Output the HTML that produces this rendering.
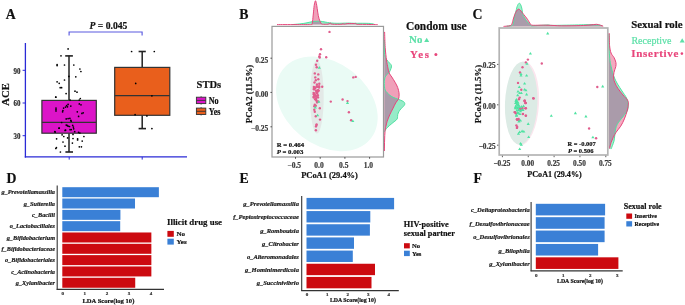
<!DOCTYPE html>
<html><head><meta charset="utf-8"><title>Figure</title>
<style>
html,body{margin:0;padding:0;background:#fff;width:685px;height:305px;overflow:hidden;}
svg{display:block;font-family:"Liberation Serif",serif;will-change:transform;}
</style></head><body>
<svg width="685" height="305" viewBox="0 0 685 305" font-family="Liberation Serif"><text transform="translate(5.80,18.50) scale(0.92,1)" font-size="15" font-weight="bold" fill="#111" stroke="#111" stroke-width="0.2">A</text>
<text transform="translate(239.20,18.50) scale(0.92,1)" font-size="15" font-weight="bold" fill="#111" stroke="#111" stroke-width="0.2">B</text>
<text transform="translate(472.60,18.50) scale(0.92,1)" font-size="15" font-weight="bold" fill="#111" stroke="#111" stroke-width="0.2">C</text>
<text transform="translate(6.40,182.80) scale(0.92,1)" font-size="15" font-weight="bold" fill="#111" stroke="#111" stroke-width="0.2">D</text>
<text transform="translate(239.60,182.80) scale(0.92,1)" font-size="15" font-weight="bold" fill="#111" stroke="#111" stroke-width="0.2">E</text>
<text transform="translate(473.60,182.80) scale(0.92,1)" font-size="15" font-weight="bold" fill="#111" stroke="#111" stroke-width="0.2">F</text>
<line x1="25.4" y1="43" x2="25.4" y2="157.6" stroke="#2a2ad6" stroke-width="1.3"/>
<line x1="24.8" y1="156.9" x2="187" y2="156.9" stroke="#2a2ad6" stroke-width="1.3"/>
<line x1="22.6" y1="135.70" x2="25.4" y2="135.70" stroke="#2a2ad6" stroke-width="1"/>
<text transform="translate(20.4,138.90) scale(0.88,1)" font-size="7.9" font-weight="bold" text-anchor="end" fill="#222" stroke="#222" stroke-width="0.15">30</text>
<line x1="22.6" y1="103.00" x2="25.4" y2="103.00" stroke="#2a2ad6" stroke-width="1"/>
<text transform="translate(20.4,106.20) scale(0.88,1)" font-size="7.9" font-weight="bold" text-anchor="end" fill="#222" stroke="#222" stroke-width="0.15">60</text>
<line x1="22.6" y1="70.30" x2="25.4" y2="70.30" stroke="#2a2ad6" stroke-width="1"/>
<text transform="translate(20.4,73.50) scale(0.88,1)" font-size="7.9" font-weight="bold" text-anchor="end" fill="#222" stroke="#222" stroke-width="0.15">90</text>
<line x1="69.20" y1="156.9" x2="69.20" y2="159.6" stroke="#2a2ad6" stroke-width="1"/>
<line x1="142.20" y1="156.9" x2="142.20" y2="159.6" stroke="#2a2ad6" stroke-width="1"/>
<text transform="translate(9.1,94.4) rotate(-90)" font-size="10.7" font-weight="bold" text-anchor="middle" fill="#111" stroke="#111" stroke-width="0.2">ACE</text>
<path d="M69.1,35.6 V32 H142.1 V35.6" fill="none" stroke="#5a5ae0" stroke-width="1.15"/>
<text x="89.6" y="29.1" font-size="9.6" font-weight="bold" fill="#111" stroke="#111" stroke-width="0.2"><tspan font-style="italic">P</tspan> = 0.045</text>
<line x1="69.00" y1="55.80" x2="69.00" y2="100.40" stroke="#222" stroke-width="1.5"/>
<line x1="69.00" y1="133.20" x2="69.00" y2="152.00" stroke="#222" stroke-width="1.5"/>
<line x1="65.2" y1="55.9" x2="72.9" y2="55.9" stroke="#222" stroke-width="1.6"/>
<line x1="65.4" y1="152" x2="73" y2="152" stroke="#222" stroke-width="1.6"/>
<line x1="142.20" y1="51.40" x2="142.20" y2="67.40" stroke="#222" stroke-width="1.5"/>
<line x1="142.20" y1="115.20" x2="142.20" y2="128.60" stroke="#222" stroke-width="1.5"/>
<line x1="138.6" y1="51.5" x2="145.8" y2="51.5" stroke="#222" stroke-width="1.6"/>
<line x1="138.6" y1="128.6" x2="146" y2="128.6" stroke="#222" stroke-width="1.6"/>
<rect x="41.9" y="100.4" width="54.4" height="32.8" fill="#dc14c8" stroke="#333" stroke-width="1.2"/>
<line x1="41.9" y1="122.3" x2="96.3" y2="122.3" stroke="#333" stroke-width="1.3"/>
<rect x="114.7" y="67.4" width="55.1" height="47.9" fill="#e95f1c" stroke="#333" stroke-width="1.2"/>
<line x1="114.7" y1="95.7" x2="169.8" y2="95.7" stroke="#333" stroke-width="1.3"/>
<circle cx="68.10" cy="48.90" r="0.85" fill="#000"/>
<circle cx="61.00" cy="55.80" r="0.85" fill="#000"/>
<circle cx="57.10" cy="64.60" r="0.85" fill="#000"/>
<circle cx="57.10" cy="65.60" r="0.85" fill="#000"/>
<circle cx="64.50" cy="65.00" r="0.85" fill="#000"/>
<circle cx="73.80" cy="65.00" r="0.85" fill="#000"/>
<circle cx="79.90" cy="69.00" r="0.85" fill="#000"/>
<circle cx="80.90" cy="71.50" r="0.85" fill="#000"/>
<circle cx="68.90" cy="76.40" r="0.85" fill="#000"/>
<circle cx="75.80" cy="76.80" r="0.85" fill="#000"/>
<circle cx="64.50" cy="80.00" r="0.85" fill="#000"/>
<circle cx="57.10" cy="81.80" r="0.85" fill="#000"/>
<circle cx="59.20" cy="83.30" r="0.85" fill="#000"/>
<circle cx="60.20" cy="87.70" r="0.85" fill="#000"/>
<circle cx="61.60" cy="87.70" r="0.85" fill="#000"/>
<circle cx="66.10" cy="93.60" r="0.85" fill="#000"/>
<circle cx="75.00" cy="91.20" r="0.85" fill="#000"/>
<circle cx="77.00" cy="92.20" r="0.85" fill="#000"/>
<circle cx="55.90" cy="97.10" r="0.85" fill="#000"/>
<circle cx="80.30" cy="98.50" r="0.85" fill="#000"/>
<circle cx="55.70" cy="97.20" r="0.85" fill="#000"/>
<circle cx="70.10" cy="100.00" r="0.85" fill="#000"/>
<circle cx="79.30" cy="100.00" r="0.85" fill="#000"/>
<circle cx="68.10" cy="104.40" r="0.85" fill="#000"/>
<circle cx="66.60" cy="105.70" r="0.85" fill="#000"/>
<circle cx="65.50" cy="107.10" r="0.85" fill="#000"/>
<circle cx="67.50" cy="106.80" r="0.85" fill="#000"/>
<circle cx="70.80" cy="106.10" r="0.85" fill="#000"/>
<circle cx="79.30" cy="103.90" r="0.85" fill="#000"/>
<circle cx="81.00" cy="104.80" r="0.85" fill="#000"/>
<circle cx="56.00" cy="108.10" r="0.85" fill="#000"/>
<circle cx="56.00" cy="109.70" r="0.85" fill="#000"/>
<circle cx="56.00" cy="111.00" r="0.85" fill="#000"/>
<circle cx="63.60" cy="108.10" r="0.85" fill="#000"/>
<circle cx="62.90" cy="110.50" r="0.85" fill="#000"/>
<circle cx="62.60" cy="111.80" r="0.85" fill="#000"/>
<circle cx="77.30" cy="111.80" r="0.85" fill="#000"/>
<circle cx="81.90" cy="113.40" r="0.85" fill="#000"/>
<circle cx="83.20" cy="112.80" r="0.85" fill="#000"/>
<circle cx="78.60" cy="116.40" r="0.85" fill="#000"/>
<circle cx="66.20" cy="118.90" r="0.85" fill="#000"/>
<circle cx="68.10" cy="118.60" r="0.85" fill="#000"/>
<circle cx="69.90" cy="118.30" r="0.85" fill="#000"/>
<circle cx="70.80" cy="120.30" r="0.85" fill="#000"/>
<circle cx="71.20" cy="121.20" r="0.85" fill="#000"/>
<circle cx="61.60" cy="122.50" r="0.85" fill="#000"/>
<circle cx="66.20" cy="125.10" r="0.85" fill="#000"/>
<circle cx="67.10" cy="125.40" r="0.85" fill="#000"/>
<circle cx="68.10" cy="126.20" r="0.85" fill="#000"/>
<circle cx="69.50" cy="126.50" r="0.85" fill="#000"/>
<circle cx="72.70" cy="125.40" r="0.85" fill="#000"/>
<circle cx="73.40" cy="127.10" r="0.85" fill="#000"/>
<circle cx="73.70" cy="128.80" r="0.85" fill="#000"/>
<circle cx="59.00" cy="128.20" r="0.85" fill="#000"/>
<circle cx="70.10" cy="129.70" r="0.85" fill="#000"/>
<circle cx="65.10" cy="130.40" r="0.85" fill="#000"/>
<circle cx="54.80" cy="131.70" r="0.85" fill="#000"/>
<circle cx="74.70" cy="131.70" r="0.85" fill="#000"/>
<circle cx="78.60" cy="132.40" r="0.85" fill="#000"/>
<circle cx="79.90" cy="133.00" r="0.85" fill="#000"/>
<circle cx="59.20" cy="128.20" r="0.85" fill="#000"/>
<circle cx="65.60" cy="130.20" r="0.85" fill="#000"/>
<circle cx="71.30" cy="129.60" r="0.85" fill="#000"/>
<circle cx="55.20" cy="132.10" r="0.85" fill="#000"/>
<circle cx="62.10" cy="134.80" r="0.85" fill="#000"/>
<circle cx="63.80" cy="136.50" r="0.85" fill="#000"/>
<circle cx="67.60" cy="137.90" r="0.85" fill="#000"/>
<circle cx="73.00" cy="134.40" r="0.85" fill="#000"/>
<circle cx="73.00" cy="138.50" r="0.85" fill="#000"/>
<circle cx="77.60" cy="138.80" r="0.85" fill="#000"/>
<circle cx="77.60" cy="139.90" r="0.85" fill="#000"/>
<circle cx="83.90" cy="136.50" r="0.85" fill="#000"/>
<circle cx="82.20" cy="141.10" r="0.85" fill="#000"/>
<circle cx="56.60" cy="138.80" r="0.85" fill="#000"/>
<circle cx="63.00" cy="142.00" r="0.85" fill="#000"/>
<circle cx="72.40" cy="143.10" r="0.85" fill="#000"/>
<circle cx="65.00" cy="146.20" r="0.85" fill="#000"/>
<circle cx="56.40" cy="147.70" r="0.85" fill="#000"/>
<circle cx="55.80" cy="148.50" r="0.85" fill="#000"/>
<circle cx="79.30" cy="146.80" r="0.85" fill="#000"/>
<circle cx="81.40" cy="146.80" r="0.85" fill="#000"/>
<circle cx="60.40" cy="152.00" r="0.85" fill="#000"/>
<circle cx="131.60" cy="51.50" r="0.85" fill="#000"/>
<circle cx="154.30" cy="51.50" r="0.85" fill="#000"/>
<circle cx="135.70" cy="83.40" r="0.85" fill="#000"/>
<circle cx="151.90" cy="95.80" r="0.85" fill="#000"/>
<circle cx="135.10" cy="114.70" r="0.85" fill="#000"/>
<circle cx="146.90" cy="115.90" r="0.85" fill="#000"/>
<circle cx="151.90" cy="128.60" r="0.85" fill="#000"/>
<text x="196.60" y="87.70" font-size="10.50" font-weight="bold" font-style="normal" text-anchor="start" fill="#111" stroke="#111" stroke-width="0.2" >STDs</text>
<rect x="196.40" y="97.20" width="9.40" height="6.40" fill="#dc14c8" stroke="#333" stroke-width="0.9"/>
<line x1="196.40" y1="100.40" x2="205.80" y2="100.40" stroke="#333" stroke-width="0.9"/>
<line x1="201.10" y1="96.20" x2="201.10" y2="97.20" stroke="#333" stroke-width="0.8"/>
<line x1="201.10" y1="103.60" x2="201.10" y2="104.60" stroke="#333" stroke-width="0.8"/>
<rect x="196.40" y="108.10" width="9.40" height="6.40" fill="#e95f1c" stroke="#333" stroke-width="0.9"/>
<line x1="196.40" y1="111.30" x2="205.80" y2="111.30" stroke="#333" stroke-width="0.9"/>
<line x1="201.10" y1="107.10" x2="201.10" y2="108.10" stroke="#333" stroke-width="0.8"/>
<line x1="201.10" y1="114.50" x2="201.10" y2="115.50" stroke="#333" stroke-width="0.8"/>
<text transform="translate(208.7,103.5) scale(0.88,1)" font-size="9.3" font-weight="bold" fill="#111" stroke="#111" stroke-width="0.2">No</text>
<text transform="translate(208.7,114.9) scale(0.88,1)" font-size="9.3" font-weight="bold" fill="#111" stroke="#111" stroke-width="0.2">Yes</text>
<ellipse cx="326.9" cy="103.9" rx="55.9" ry="41.2" transform="rotate(38.2 326.9 103.9)" fill="#eafbf5"/>
<ellipse cx="316.9" cy="97" rx="6.8" ry="36.5" fill="#e3e9e7"/>
<circle cx="329.50" cy="31.90" r="1.20" fill="#e05d8d"/>
<circle cx="321.00" cy="49.30" r="1.20" fill="#e05d8d"/>
<circle cx="320.00" cy="54.20" r="1.20" fill="#e05d8d"/>
<circle cx="319.30" cy="56.50" r="1.20" fill="#e05d8d"/>
<circle cx="319.70" cy="57.50" r="1.20" fill="#e05d8d"/>
<circle cx="326.20" cy="57.30" r="1.20" fill="#e05d8d"/>
<circle cx="317.20" cy="60.70" r="1.20" fill="#e05d8d"/>
<circle cx="316.00" cy="64.80" r="1.20" fill="#e05d8d"/>
<circle cx="316.70" cy="67.30" r="1.20" fill="#e05d8d"/>
<circle cx="314.80" cy="73.40" r="1.20" fill="#e05d8d"/>
<circle cx="318.30" cy="74.40" r="1.20" fill="#e05d8d"/>
<circle cx="315.30" cy="77.40" r="1.20" fill="#e05d8d"/>
<circle cx="318.30" cy="79.30" r="1.20" fill="#e05d8d"/>
<circle cx="315.80" cy="80.30" r="1.20" fill="#e05d8d"/>
<circle cx="319.30" cy="83.70" r="1.20" fill="#e05d8d"/>
<circle cx="322.20" cy="86.70" r="1.20" fill="#e05d8d"/>
<circle cx="314.50" cy="82.50" r="1.20" fill="#e05d8d"/>
<circle cx="317.00" cy="84.50" r="1.20" fill="#e05d8d"/>
<circle cx="314.80" cy="104.80" r="1.20" fill="#e05d8d"/>
<circle cx="315.80" cy="105.80" r="1.20" fill="#e05d8d"/>
<circle cx="314.30" cy="106.30" r="1.20" fill="#e05d8d"/>
<circle cx="319.80" cy="108.30" r="1.20" fill="#e05d8d"/>
<circle cx="314.30" cy="109.80" r="1.20" fill="#e05d8d"/>
<circle cx="314.80" cy="111.70" r="1.20" fill="#e05d8d"/>
<circle cx="315.80" cy="116.20" r="1.20" fill="#e05d8d"/>
<circle cx="320.00" cy="119.60" r="1.20" fill="#e05d8d"/>
<circle cx="316.60" cy="124.50" r="1.20" fill="#e05d8d"/>
<circle cx="316.40" cy="125.10" r="1.20" fill="#e05d8d"/>
<circle cx="316.00" cy="126.40" r="1.20" fill="#e05d8d"/>
<circle cx="315.90" cy="130.30" r="1.20" fill="#e05d8d"/>
<circle cx="330.80" cy="101.60" r="1.20" fill="#e05d8d"/>
<circle cx="342.60" cy="99.50" r="1.20" fill="#e05d8d"/>
<circle cx="347.50" cy="101.10" r="1.20" fill="#e05d8d"/>
<circle cx="348.90" cy="112.30" r="1.20" fill="#e05d8d"/>
<circle cx="353.30" cy="77.40" r="1.20" fill="#e05d8d"/>
<circle cx="355.70" cy="76.90" r="1.20" fill="#e05d8d"/>
<circle cx="351.10" cy="120.20" r="1.20" fill="#e05d8d"/>
<circle cx="315.28" cy="88.06" r="1.20" fill="#e05d8d"/>
<circle cx="317.18" cy="86.73" r="1.20" fill="#e05d8d"/>
<circle cx="316.51" cy="91.72" r="1.20" fill="#e05d8d"/>
<circle cx="313.74" cy="94.13" r="1.20" fill="#e05d8d"/>
<circle cx="313.62" cy="92.87" r="1.20" fill="#e05d8d"/>
<circle cx="313.81" cy="87.04" r="1.20" fill="#e05d8d"/>
<circle cx="315.86" cy="99.56" r="1.20" fill="#e05d8d"/>
<circle cx="314.12" cy="89.30" r="1.20" fill="#e05d8d"/>
<circle cx="317.04" cy="101.61" r="1.20" fill="#e05d8d"/>
<circle cx="316.75" cy="92.24" r="1.20" fill="#e05d8d"/>
<circle cx="319.06" cy="86.29" r="1.20" fill="#e05d8d"/>
<circle cx="318.38" cy="90.42" r="1.20" fill="#e05d8d"/>
<circle cx="314.24" cy="87.50" r="1.20" fill="#e05d8d"/>
<circle cx="315.19" cy="99.37" r="1.20" fill="#e05d8d"/>
<circle cx="314.45" cy="95.39" r="1.20" fill="#e05d8d"/>
<circle cx="317.11" cy="91.83" r="1.20" fill="#e05d8d"/>
<circle cx="316.58" cy="86.57" r="1.20" fill="#e05d8d"/>
<circle cx="313.75" cy="89.00" r="1.20" fill="#e05d8d"/>
<circle cx="317.35" cy="92.77" r="1.20" fill="#e05d8d"/>
<circle cx="315.22" cy="95.45" r="1.20" fill="#e05d8d"/>
<circle cx="316.03" cy="90.60" r="1.20" fill="#e05d8d"/>
<circle cx="318.01" cy="97.38" r="1.20" fill="#e05d8d"/>
<circle cx="314.82" cy="95.27" r="1.20" fill="#e05d8d"/>
<circle cx="316.45" cy="100.38" r="1.20" fill="#e05d8d"/>
<circle cx="317.63" cy="90.39" r="1.20" fill="#e05d8d"/>
<circle cx="319.09" cy="87.51" r="1.20" fill="#e05d8d"/>
<circle cx="315.83" cy="98.37" r="1.20" fill="#e05d8d"/>
<circle cx="314.28" cy="93.81" r="1.20" fill="#e05d8d"/>
<circle cx="313.63" cy="96.86" r="1.20" fill="#e05d8d"/>
<circle cx="317.83" cy="95.24" r="1.20" fill="#e05d8d"/>
<circle cx="318.48" cy="90.83" r="1.20" fill="#e05d8d"/>
<circle cx="317.43" cy="95.60" r="1.20" fill="#e05d8d"/>
<circle cx="316.76" cy="93.26" r="1.20" fill="#e05d8d"/>
<circle cx="318.27" cy="101.56" r="1.20" fill="#e05d8d"/>
<circle cx="316.15" cy="96.79" r="1.20" fill="#e05d8d"/>
<circle cx="313.75" cy="97.43" r="1.20" fill="#e05d8d"/>
<circle cx="317.15" cy="102.38" r="1.20" fill="#e05d8d"/>
<circle cx="318.17" cy="90.34" r="1.20" fill="#e05d8d"/>
<path d="M319.30,66.10 L320.88,68.72 L317.73,68.72 Z" fill="#4fe3a2"/>
<path d="M318.80,100.20 L320.38,102.83 L317.23,102.83 Z" fill="#4fe3a2"/>
<path d="M315.30,105.80 L316.88,108.42 L313.73,108.42 Z" fill="#4fe3a2"/>
<path d="M317.60,113.70 L319.18,116.33 L316.03,116.33 Z" fill="#4fe3a2"/>
<path d="M347.50,101.30 L349.07,103.92 L345.93,103.92 Z" fill="#4fe3a2"/>
<path d="M352.80,119.50 L354.38,122.12 L351.23,122.12 Z" fill="#4fe3a2"/>
<rect x="272" y="26.4" width="111.5" height="130.6" fill="none" stroke="#9a9a9a" stroke-width="1.2"/>
<line x1="270.4" y1="58.20" x2="272" y2="58.20" stroke="#333" stroke-width="0.8"/>
<text x="268.30" y="62.70" font-size="7.50" font-weight="bold" font-style="normal" text-anchor="end" fill="#3a3a3a" stroke="#3a3a3a" stroke-width="0.2" >0.25</text>
<line x1="270.4" y1="92.40" x2="272" y2="92.40" stroke="#333" stroke-width="0.8"/>
<text x="268.30" y="96.90" font-size="7.50" font-weight="bold" font-style="normal" text-anchor="end" fill="#3a3a3a" stroke="#3a3a3a" stroke-width="0.2" >0.00</text>
<line x1="270.4" y1="126.80" x2="272" y2="126.80" stroke="#333" stroke-width="0.8"/>
<text x="268.30" y="131.30" font-size="7.50" font-weight="bold" font-style="normal" text-anchor="end" fill="#3a3a3a" stroke="#3a3a3a" stroke-width="0.2" >−0.25</text>
<line x1="295.50" y1="157" x2="295.50" y2="158.8" stroke="#333" stroke-width="0.8"/>
<text x="294.30" y="167.50" font-size="7.50" font-weight="bold" font-style="normal" text-anchor="middle" fill="#3a3a3a" stroke="#3a3a3a" stroke-width="0.2" >−0.5</text>
<line x1="320.20" y1="157" x2="320.20" y2="158.8" stroke="#333" stroke-width="0.8"/>
<text x="319.00" y="167.50" font-size="7.50" font-weight="bold" font-style="normal" text-anchor="middle" fill="#3a3a3a" stroke="#3a3a3a" stroke-width="0.2" >0.0</text>
<line x1="344.90" y1="157" x2="344.90" y2="158.8" stroke="#333" stroke-width="0.8"/>
<text x="343.70" y="167.50" font-size="7.50" font-weight="bold" font-style="normal" text-anchor="middle" fill="#3a3a3a" stroke="#3a3a3a" stroke-width="0.2" >0.5</text>
<line x1="369.60" y1="157" x2="369.60" y2="158.8" stroke="#333" stroke-width="0.8"/>
<text x="368.40" y="167.50" font-size="7.50" font-weight="bold" font-style="normal" text-anchor="middle" fill="#3a3a3a" stroke="#3a3a3a" stroke-width="0.2" >1.0</text>
<text x="329.50" y="177.70" font-size="8.45" font-weight="bold" font-style="normal" text-anchor="middle" fill="#111" stroke="#111" stroke-width="0.2" >PCoA1 (29.4%)</text>
<text transform="translate(251.6,94.05) rotate(-90)" font-size="8.74" font-weight="bold" text-anchor="middle" fill="#111" stroke="#111" stroke-width="0.2">PCoA2 (11.5%)</text>
<text x="276.70" y="147.20" font-size="6.80" font-weight="bold" font-style="normal" text-anchor="start" fill="#111" stroke="#111" stroke-width="0.2" >R = 0.464</text>
<text x="276.7" y="154.2" font-size="6.8" font-weight="bold" fill="#111" stroke="#111" stroke-width="0.2"><tspan font-style="italic">P</tspan> = 0.003</text>
<clipPath id="clp1"><path d="M291.90,24.60 C293.25,24.48 297.65,24.17 300.00,23.90 C302.35,23.63 304.00,23.37 306.00,23.00 C308.00,22.63 310.33,21.98 312.00,21.70 C313.67,21.42 314.53,21.37 316.00,21.30 C317.47,21.23 318.53,21.05 320.80,21.30 C323.07,21.55 326.92,22.47 329.60,22.80 C332.28,23.13 333.87,23.25 336.90,23.30 C339.93,23.35 344.77,23.10 347.80,23.10 C350.83,23.10 352.23,23.27 355.10,23.30 C357.97,23.33 362.25,23.25 365.00,23.30 C367.75,23.35 369.93,23.38 371.60,23.60 C373.27,23.82 374.43,24.43 375.00,24.60 L375.00,24.60 L291.90,24.60 Z"/></clipPath>
<path d="M291.90,24.60 C293.25,24.48 297.65,24.17 300.00,23.90 C302.35,23.63 304.00,23.37 306.00,23.00 C308.00,22.63 310.33,21.98 312.00,21.70 C313.67,21.42 314.53,21.37 316.00,21.30 C317.47,21.23 318.53,21.05 320.80,21.30 C323.07,21.55 326.92,22.47 329.60,22.80 C332.28,23.13 333.87,23.25 336.90,23.30 C339.93,23.35 344.77,23.10 347.80,23.10 C350.83,23.10 352.23,23.27 355.10,23.30 C357.97,23.33 362.25,23.25 365.00,23.30 C367.75,23.35 369.93,23.38 371.60,23.60 C373.27,23.82 374.43,24.43 375.00,24.60 L375.00,24.60 L291.90,24.60 Z" fill="#96ebc8"/>
<path d="M277.00,24.60 C280.00,24.60 289.42,24.60 295.00,24.60 C300.58,24.60 307.68,24.67 310.50,24.60 C313.32,24.53 311.55,24.80 311.90,24.20 C312.25,23.60 312.37,22.70 312.60,21.00 C312.83,19.30 313.03,16.58 313.30,14.00 C313.57,11.42 313.85,7.70 314.20,5.50 C314.55,3.30 315.03,1.13 315.40,0.80 C315.77,0.47 316.10,2.22 316.40,3.50 C316.70,4.78 316.88,6.48 317.20,8.50 C317.52,10.52 317.88,13.58 318.30,15.60 C318.72,17.62 319.22,19.28 319.70,20.60 C320.18,21.92 320.77,22.90 321.20,23.50 C321.63,24.10 321.15,24.10 322.30,24.20 C323.45,24.30 326.77,24.28 328.10,24.10 C329.43,23.92 329.57,23.08 330.30,23.10 C331.03,23.12 330.55,24.02 332.50,24.20 C334.45,24.38 340.30,24.30 342.00,24.20 C343.70,24.10 342.33,23.60 342.70,23.60 C343.07,23.60 343.35,24.22 344.20,24.20 C345.05,24.18 346.10,23.62 347.80,23.50 C349.50,23.38 353.12,23.57 354.40,23.50 C355.68,23.43 355.13,22.98 355.50,23.10 C355.87,23.22 355.02,23.98 356.60,24.20 C358.18,24.42 361.48,24.33 365.00,24.40 C368.52,24.47 375.58,24.57 377.70,24.60 L377.70,24.60 L277.00,24.60 Z" fill="#f0a0b9"/>
<path d="M277.00,24.60 C280.00,24.60 289.42,24.60 295.00,24.60 C300.58,24.60 307.68,24.67 310.50,24.60 C313.32,24.53 311.55,24.80 311.90,24.20 C312.25,23.60 312.37,22.70 312.60,21.00 C312.83,19.30 313.03,16.58 313.30,14.00 C313.57,11.42 313.85,7.70 314.20,5.50 C314.55,3.30 315.03,1.13 315.40,0.80 C315.77,0.47 316.10,2.22 316.40,3.50 C316.70,4.78 316.88,6.48 317.20,8.50 C317.52,10.52 317.88,13.58 318.30,15.60 C318.72,17.62 319.22,19.28 319.70,20.60 C320.18,21.92 320.77,22.90 321.20,23.50 C321.63,24.10 321.15,24.10 322.30,24.20 C323.45,24.30 326.77,24.28 328.10,24.10 C329.43,23.92 329.57,23.08 330.30,23.10 C331.03,23.12 330.55,24.02 332.50,24.20 C334.45,24.38 340.30,24.30 342.00,24.20 C343.70,24.10 342.33,23.60 342.70,23.60 C343.07,23.60 343.35,24.22 344.20,24.20 C345.05,24.18 346.10,23.62 347.80,23.50 C349.50,23.38 353.12,23.57 354.40,23.50 C355.68,23.43 355.13,22.98 355.50,23.10 C355.87,23.22 355.02,23.98 356.60,24.20 C358.18,24.42 361.48,24.33 365.00,24.40 C368.52,24.47 375.58,24.57 377.70,24.60 L377.70,24.60 L277.00,24.60 Z" fill="#aa9baa" clip-path="url(#clp1)"/>
<path d="M291.90,24.60 C293.25,24.48 297.65,24.17 300.00,23.90 C302.35,23.63 304.00,23.37 306.00,23.00 C308.00,22.63 310.33,21.98 312.00,21.70 C313.67,21.42 314.53,21.37 316.00,21.30 C317.47,21.23 318.53,21.05 320.80,21.30 C323.07,21.55 326.92,22.47 329.60,22.80 C332.28,23.13 333.87,23.25 336.90,23.30 C339.93,23.35 344.77,23.10 347.80,23.10 C350.83,23.10 352.23,23.27 355.10,23.30 C357.97,23.33 362.25,23.25 365.00,23.30 C367.75,23.35 369.93,23.38 371.60,23.60 C373.27,23.82 374.43,24.43 375.00,24.60" fill="none" stroke="#4fe0a0" stroke-width="1"/>
<path d="M277.00,24.60 C280.00,24.60 289.42,24.60 295.00,24.60 C300.58,24.60 307.68,24.67 310.50,24.60 C313.32,24.53 311.55,24.80 311.90,24.20 C312.25,23.60 312.37,22.70 312.60,21.00 C312.83,19.30 313.03,16.58 313.30,14.00 C313.57,11.42 313.85,7.70 314.20,5.50 C314.55,3.30 315.03,1.13 315.40,0.80 C315.77,0.47 316.10,2.22 316.40,3.50 C316.70,4.78 316.88,6.48 317.20,8.50 C317.52,10.52 317.88,13.58 318.30,15.60 C318.72,17.62 319.22,19.28 319.70,20.60 C320.18,21.92 320.77,22.90 321.20,23.50 C321.63,24.10 321.15,24.10 322.30,24.20 C323.45,24.30 326.77,24.28 328.10,24.10 C329.43,23.92 329.57,23.08 330.30,23.10 C331.03,23.12 330.55,24.02 332.50,24.20 C334.45,24.38 340.30,24.30 342.00,24.20 C343.70,24.10 342.33,23.60 342.70,23.60 C343.07,23.60 343.35,24.22 344.20,24.20 C345.05,24.18 346.10,23.62 347.80,23.50 C349.50,23.38 353.12,23.57 354.40,23.50 C355.68,23.43 355.13,22.98 355.50,23.10 C355.87,23.22 355.02,23.98 356.60,24.20 C358.18,24.42 361.48,24.33 365.00,24.40 C368.52,24.47 375.58,24.57 377.70,24.60" fill="none" stroke="#e6457a" stroke-width="1"/>
<clipPath id="clp2"><path d="M384.50,40.00 C384.52,42.37 384.27,50.97 384.60,54.20 C384.93,57.43 385.63,57.88 386.50,59.40 C387.37,60.92 388.97,62.28 389.80,63.30 C390.63,64.32 391.30,64.63 391.50,65.50 C391.70,66.37 391.38,67.35 391.00,68.50 C390.62,69.65 390.05,71.20 389.20,72.40 C388.35,73.60 386.67,74.60 385.90,75.70 C385.13,76.80 384.87,77.68 384.60,79.00 C384.33,80.32 384.20,81.75 384.30,83.60 C384.40,85.45 384.38,88.25 385.20,90.10 C386.02,91.95 387.88,93.50 389.20,94.70 C390.52,95.90 391.58,96.53 393.10,97.30 C394.62,98.07 396.82,98.72 398.30,99.30 C399.78,99.88 401.02,100.32 402.00,100.80 C402.98,101.28 403.77,101.53 404.20,102.20 C404.63,102.87 405.13,103.70 404.60,104.80 C404.07,105.90 401.93,107.70 401.00,108.80 C400.07,109.90 399.55,110.42 399.00,111.40 C398.45,112.38 397.95,113.62 397.70,114.70 C397.45,115.78 397.72,117.03 397.50,117.90 C397.28,118.77 397.13,119.13 396.40,119.90 C395.67,120.67 394.30,121.52 393.10,122.50 C391.90,123.48 390.28,124.82 389.20,125.80 C388.12,126.78 387.27,127.63 386.60,128.40 C385.93,129.17 385.55,129.80 385.20,130.40 C384.85,131.00 384.62,131.73 384.50,132.00 L384.30,132.00 L384.30,40.00 Z"/></clipPath>
<path d="M384.50,40.00 C384.52,42.37 384.27,50.97 384.60,54.20 C384.93,57.43 385.63,57.88 386.50,59.40 C387.37,60.92 388.97,62.28 389.80,63.30 C390.63,64.32 391.30,64.63 391.50,65.50 C391.70,66.37 391.38,67.35 391.00,68.50 C390.62,69.65 390.05,71.20 389.20,72.40 C388.35,73.60 386.67,74.60 385.90,75.70 C385.13,76.80 384.87,77.68 384.60,79.00 C384.33,80.32 384.20,81.75 384.30,83.60 C384.40,85.45 384.38,88.25 385.20,90.10 C386.02,91.95 387.88,93.50 389.20,94.70 C390.52,95.90 391.58,96.53 393.10,97.30 C394.62,98.07 396.82,98.72 398.30,99.30 C399.78,99.88 401.02,100.32 402.00,100.80 C402.98,101.28 403.77,101.53 404.20,102.20 C404.63,102.87 405.13,103.70 404.60,104.80 C404.07,105.90 401.93,107.70 401.00,108.80 C400.07,109.90 399.55,110.42 399.00,111.40 C398.45,112.38 397.95,113.62 397.70,114.70 C397.45,115.78 397.72,117.03 397.50,117.90 C397.28,118.77 397.13,119.13 396.40,119.90 C395.67,120.67 394.30,121.52 393.10,122.50 C391.90,123.48 390.28,124.82 389.20,125.80 C388.12,126.78 387.27,127.63 386.60,128.40 C385.93,129.17 385.55,129.80 385.20,130.40 C384.85,131.00 384.62,131.73 384.50,132.00 L384.30,132.00 L384.30,40.00 Z" fill="#96ebc8"/>
<path d="M384.60,31.90 C384.70,34.52 384.88,42.92 385.20,47.60 C385.52,52.28 386.05,56.62 386.50,60.00 C386.95,63.38 387.45,65.72 387.90,67.90 C388.35,70.08 388.55,71.58 389.20,73.10 C389.85,74.62 390.82,75.47 391.80,77.00 C392.78,78.53 394.12,80.55 395.10,82.30 C396.08,84.05 397.05,85.75 397.70,87.50 C398.35,89.25 398.78,91.27 399.00,92.80 C399.22,94.33 399.12,95.62 399.00,96.70 C398.88,97.78 398.85,98.27 398.30,99.30 C397.75,100.33 396.57,101.43 395.70,102.90 C394.83,104.37 394.08,106.13 393.10,108.10 C392.12,110.07 390.78,112.52 389.80,114.70 C388.82,116.88 387.85,119.25 387.20,121.20 C386.55,123.15 386.27,124.65 385.90,126.40 C385.53,128.15 385.22,129.43 385.00,131.70 C384.78,133.97 384.70,136.78 384.60,140.00 C384.50,143.22 384.43,149.17 384.40,151.00 L384.30,151.00 L384.30,31.90 Z" fill="#f0a0b9"/>
<path d="M384.60,31.90 C384.70,34.52 384.88,42.92 385.20,47.60 C385.52,52.28 386.05,56.62 386.50,60.00 C386.95,63.38 387.45,65.72 387.90,67.90 C388.35,70.08 388.55,71.58 389.20,73.10 C389.85,74.62 390.82,75.47 391.80,77.00 C392.78,78.53 394.12,80.55 395.10,82.30 C396.08,84.05 397.05,85.75 397.70,87.50 C398.35,89.25 398.78,91.27 399.00,92.80 C399.22,94.33 399.12,95.62 399.00,96.70 C398.88,97.78 398.85,98.27 398.30,99.30 C397.75,100.33 396.57,101.43 395.70,102.90 C394.83,104.37 394.08,106.13 393.10,108.10 C392.12,110.07 390.78,112.52 389.80,114.70 C388.82,116.88 387.85,119.25 387.20,121.20 C386.55,123.15 386.27,124.65 385.90,126.40 C385.53,128.15 385.22,129.43 385.00,131.70 C384.78,133.97 384.70,136.78 384.60,140.00 C384.50,143.22 384.43,149.17 384.40,151.00 L384.30,151.00 L384.30,31.90 Z" fill="#aa9baa" clip-path="url(#clp2)"/>
<path d="M384.50,40.00 C384.52,42.37 384.27,50.97 384.60,54.20 C384.93,57.43 385.63,57.88 386.50,59.40 C387.37,60.92 388.97,62.28 389.80,63.30 C390.63,64.32 391.30,64.63 391.50,65.50 C391.70,66.37 391.38,67.35 391.00,68.50 C390.62,69.65 390.05,71.20 389.20,72.40 C388.35,73.60 386.67,74.60 385.90,75.70 C385.13,76.80 384.87,77.68 384.60,79.00 C384.33,80.32 384.20,81.75 384.30,83.60 C384.40,85.45 384.38,88.25 385.20,90.10 C386.02,91.95 387.88,93.50 389.20,94.70 C390.52,95.90 391.58,96.53 393.10,97.30 C394.62,98.07 396.82,98.72 398.30,99.30 C399.78,99.88 401.02,100.32 402.00,100.80 C402.98,101.28 403.77,101.53 404.20,102.20 C404.63,102.87 405.13,103.70 404.60,104.80 C404.07,105.90 401.93,107.70 401.00,108.80 C400.07,109.90 399.55,110.42 399.00,111.40 C398.45,112.38 397.95,113.62 397.70,114.70 C397.45,115.78 397.72,117.03 397.50,117.90 C397.28,118.77 397.13,119.13 396.40,119.90 C395.67,120.67 394.30,121.52 393.10,122.50 C391.90,123.48 390.28,124.82 389.20,125.80 C388.12,126.78 387.27,127.63 386.60,128.40 C385.93,129.17 385.55,129.80 385.20,130.40 C384.85,131.00 384.62,131.73 384.50,132.00" fill="none" stroke="#4fe0a0" stroke-width="1"/>
<path d="M384.60,31.90 C384.70,34.52 384.88,42.92 385.20,47.60 C385.52,52.28 386.05,56.62 386.50,60.00 C386.95,63.38 387.45,65.72 387.90,67.90 C388.35,70.08 388.55,71.58 389.20,73.10 C389.85,74.62 390.82,75.47 391.80,77.00 C392.78,78.53 394.12,80.55 395.10,82.30 C396.08,84.05 397.05,85.75 397.70,87.50 C398.35,89.25 398.78,91.27 399.00,92.80 C399.22,94.33 399.12,95.62 399.00,96.70 C398.88,97.78 398.85,98.27 398.30,99.30 C397.75,100.33 396.57,101.43 395.70,102.90 C394.83,104.37 394.08,106.13 393.10,108.10 C392.12,110.07 390.78,112.52 389.80,114.70 C388.82,116.88 387.85,119.25 387.20,121.20 C386.55,123.15 386.27,124.65 385.90,126.40 C385.53,128.15 385.22,129.43 385.00,131.70 C384.78,133.97 384.70,136.78 384.60,140.00 C384.50,143.22 384.43,149.17 384.40,151.00" fill="none" stroke="#e6457a" stroke-width="1"/>
<text x="405.90" y="29.60" font-size="11.45" font-weight="bold" font-style="normal" text-anchor="start" fill="#111" stroke="#111" stroke-width="0.2" >Condom use</text>
<text x="409.10" y="42.50" font-size="10.80" font-weight="bold" font-style="normal" text-anchor="start" fill="#5de0a8" stroke="#5de0a8" stroke-width="0.2" >No</text>
<path d="M426.70,37.70 L429.22,41.90 L424.18,41.90 Z" fill="#5de0a8"/>
<text x="410.00" y="57.90" font-size="10.80" font-weight="bold" font-style="normal" text-anchor="start" fill="#e8457b" stroke="#e8457b" stroke-width="0.2" letter-spacing="1.7">Yes</text>
<circle cx="435.90" cy="54.60" r="1.50" fill="#e8457b"/>
<ellipse cx="522.3" cy="103.3" rx="16.7" ry="42.0" transform="rotate(3 522.3 103.3)" fill="#fbe6ee"/>
<ellipse cx="521.2" cy="103.2" rx="16.2" ry="41.6" transform="rotate(2.3 521.2 103.2)" fill="#dcebe5"/>
<circle cx="527.90" cy="59.60" r="1.20" fill="#e05d8d"/>
<circle cx="525.90" cy="62.40" r="1.20" fill="#e05d8d"/>
<circle cx="541.80" cy="63.50" r="1.20" fill="#e05d8d"/>
<circle cx="522.50" cy="67.30" r="1.20" fill="#e05d8d"/>
<circle cx="520.00" cy="72.50" r="1.20" fill="#e05d8d"/>
<circle cx="518.00" cy="82.90" r="1.20" fill="#e05d8d"/>
<circle cx="521.30" cy="89.80" r="1.20" fill="#e05d8d"/>
<circle cx="533.60" cy="98.40" r="1.20" fill="#e05d8d"/>
<circle cx="519.70" cy="97.60" r="1.20" fill="#e05d8d"/>
<circle cx="518.90" cy="99.30" r="1.20" fill="#e05d8d"/>
<circle cx="524.60" cy="100.90" r="1.20" fill="#e05d8d"/>
<circle cx="525.40" cy="102.90" r="1.20" fill="#e05d8d"/>
<circle cx="524.60" cy="100.80" r="1.20" fill="#e05d8d"/>
<circle cx="525.40" cy="103.00" r="1.20" fill="#e05d8d"/>
<circle cx="519.70" cy="108.20" r="1.20" fill="#e05d8d"/>
<circle cx="522.10" cy="109.00" r="1.20" fill="#e05d8d"/>
<circle cx="525.90" cy="108.20" r="1.20" fill="#e05d8d"/>
<circle cx="515.10" cy="112.30" r="1.20" fill="#e05d8d"/>
<circle cx="523.00" cy="113.90" r="1.20" fill="#e05d8d"/>
<circle cx="525.90" cy="115.60" r="1.20" fill="#e05d8d"/>
<circle cx="517.20" cy="119.70" r="1.20" fill="#e05d8d"/>
<circle cx="518.90" cy="120.50" r="1.20" fill="#e05d8d"/>
<circle cx="516.40" cy="125.40" r="1.20" fill="#e05d8d"/>
<circle cx="517.20" cy="127.00" r="1.20" fill="#e05d8d"/>
<circle cx="516.90" cy="127.90" r="1.20" fill="#e05d8d"/>
<circle cx="597.30" cy="87.00" r="1.20" fill="#e05d8d"/>
<circle cx="589.10" cy="128.50" r="1.20" fill="#e05d8d"/>
<circle cx="596.10" cy="138.30" r="1.20" fill="#e05d8d"/>
<circle cx="533.30" cy="98.20" r="1.20" fill="#e05d8d"/>
<circle cx="524.80" cy="100.70" r="1.20" fill="#e05d8d"/>
<circle cx="525.80" cy="103.00" r="1.20" fill="#e05d8d"/>
<circle cx="525.40" cy="108.20" r="1.20" fill="#e05d8d"/>
<circle cx="522.50" cy="107.90" r="1.20" fill="#e05d8d"/>
<circle cx="520.50" cy="109.80" r="1.20" fill="#e05d8d"/>
<circle cx="514.60" cy="112.10" r="1.20" fill="#e05d8d"/>
<circle cx="515.90" cy="113.40" r="1.20" fill="#e05d8d"/>
<circle cx="522.80" cy="114.10" r="1.20" fill="#e05d8d"/>
<circle cx="525.80" cy="115.70" r="1.20" fill="#e05d8d"/>
<circle cx="518.60" cy="119.00" r="1.20" fill="#e05d8d"/>
<circle cx="516.90" cy="119.30" r="1.20" fill="#e05d8d"/>
<path d="M547.70,31.80 L549.28,34.42 L546.12,34.42 Z" fill="#4fe3a2"/>
<path d="M530.40,52.00 L531.98,54.62 L528.82,54.62 Z" fill="#4fe3a2"/>
<path d="M527.00,62.20 L528.58,64.83 L525.42,64.83 Z" fill="#4fe3a2"/>
<path d="M521.00,72.40 L522.58,75.03 L519.42,75.03 Z" fill="#4fe3a2"/>
<path d="M521.00,74.00 L522.58,76.62 L519.42,76.62 Z" fill="#4fe3a2"/>
<path d="M526.60,74.00 L528.18,76.62 L525.02,76.62 Z" fill="#4fe3a2"/>
<path d="M524.60,81.90 L526.18,84.53 L523.02,84.53 Z" fill="#4fe3a2"/>
<path d="M519.30,85.50 L520.88,88.12 L517.72,88.12 Z" fill="#4fe3a2"/>
<path d="M524.60,87.90 L526.18,90.53 L523.02,90.53 Z" fill="#4fe3a2"/>
<path d="M525.90,88.70 L527.48,91.33 L524.32,91.33 Z" fill="#4fe3a2"/>
<path d="M518.00,89.90 L519.58,92.53 L516.42,92.53 Z" fill="#4fe3a2"/>
<path d="M519.70,91.50 L521.28,94.12 L518.12,94.12 Z" fill="#4fe3a2"/>
<path d="M521.30,91.50 L522.88,94.12 L519.72,94.12 Z" fill="#4fe3a2"/>
<path d="M526.60,92.80 L528.18,95.42 L525.02,95.42 Z" fill="#4fe3a2"/>
<path d="M517.70,93.70 L519.28,96.33 L516.12,96.33 Z" fill="#4fe3a2"/>
<path d="M516.40,98.10 L517.98,100.72 L514.82,100.72 Z" fill="#4fe3a2"/>
<path d="M517.20,100.20 L518.78,102.83 L515.62,102.83 Z" fill="#4fe3a2"/>
<path d="M518.00,102.70 L519.58,105.33 L516.42,105.33 Z" fill="#4fe3a2"/>
<path d="M516.40,99.30 L517.98,101.92 L514.82,101.92 Z" fill="#4fe3a2"/>
<path d="M516.40,101.00 L517.98,103.62 L514.82,103.62 Z" fill="#4fe3a2"/>
<path d="M515.60,105.10 L517.18,107.72 L514.02,107.72 Z" fill="#4fe3a2"/>
<path d="M517.70,105.90 L519.28,108.53 L516.12,108.53 Z" fill="#4fe3a2"/>
<path d="M518.90,104.20 L520.48,106.83 L517.32,106.83 Z" fill="#4fe3a2"/>
<path d="M521.30,105.10 L522.88,107.72 L519.72,107.72 Z" fill="#4fe3a2"/>
<path d="M523.00,108.30 L524.58,110.92 L521.42,110.92 Z" fill="#4fe3a2"/>
<path d="M520.50,109.60 L522.08,112.22 L518.92,112.22 Z" fill="#4fe3a2"/>
<path d="M518.00,111.60 L519.58,114.22 L516.42,114.22 Z" fill="#4fe3a2"/>
<path d="M516.40,114.10 L517.98,116.72 L514.82,116.72 Z" fill="#4fe3a2"/>
<path d="M518.90,119.80 L520.48,122.42 L517.32,122.42 Z" fill="#4fe3a2"/>
<path d="M520.50,119.00 L522.08,121.62 L518.92,121.62 Z" fill="#4fe3a2"/>
<path d="M528.20,122.30 L529.78,124.92 L526.62,124.92 Z" fill="#4fe3a2"/>
<path d="M519.70,130.50 L521.28,133.12 L518.12,133.12 Z" fill="#4fe3a2"/>
<path d="M522.10,129.60 L523.68,132.22 L520.52,132.22 Z" fill="#4fe3a2"/>
<path d="M523.80,130.00 L525.38,132.62 L522.22,132.62 Z" fill="#4fe3a2"/>
<path d="M518.50,132.10 L520.08,134.72 L516.92,134.72 Z" fill="#4fe3a2"/>
<path d="M528.70,135.40 L530.28,138.03 L527.12,138.03 Z" fill="#4fe3a2"/>
<path d="M520.50,141.90 L522.08,144.53 L518.92,144.53 Z" fill="#4fe3a2"/>
<path d="M521.30,143.10 L522.88,145.72 L519.72,145.72 Z" fill="#4fe3a2"/>
<path d="M519.70,147.40 L521.28,150.03 L518.12,150.03 Z" fill="#4fe3a2"/>
<path d="M602.70,84.80 L604.28,87.42 L601.12,87.42 Z" fill="#4fe3a2"/>
<path d="M592.90,135.70 L594.48,138.32 L591.32,138.32 Z" fill="#4fe3a2"/>
<path d="M551.30,114.20 L552.88,116.83 L549.72,116.83 Z" fill="#4fe3a2"/>
<path d="M575.40,111.60 L576.98,114.22 L573.82,114.22 Z" fill="#4fe3a2"/>
<path d="M585.90,114.80 L587.48,117.42 L584.32,117.42 Z" fill="#4fe3a2"/>
<path d="M515.90,99.20 L517.48,101.83 L514.32,101.83 Z" fill="#4fe3a2"/>
<path d="M516.90,100.50 L518.48,103.12 L515.32,103.12 Z" fill="#4fe3a2"/>
<path d="M515.60,101.50 L517.18,104.12 L514.02,104.12 Z" fill="#4fe3a2"/>
<path d="M517.90,101.10 L519.48,103.72 L516.32,103.72 Z" fill="#4fe3a2"/>
<path d="M516.60,103.10 L518.18,105.72 L515.02,105.72 Z" fill="#4fe3a2"/>
<path d="M518.20,103.70 L519.78,106.33 L516.62,106.33 Z" fill="#4fe3a2"/>
<path d="M515.90,105.10 L517.48,107.72 L514.32,107.72 Z" fill="#4fe3a2"/>
<path d="M515.30,106.70 L516.88,109.33 L513.72,109.33 Z" fill="#4fe3a2"/>
<path d="M517.20,107.00 L518.78,109.62 L515.62,109.62 Z" fill="#4fe3a2"/>
<path d="M519.20,105.70 L520.78,108.33 L517.62,108.33 Z" fill="#4fe3a2"/>
<path d="M516.90,109.00 L518.48,111.62 L515.32,111.62 Z" fill="#4fe3a2"/>
<path d="M518.60,108.30 L520.18,110.92 L517.02,110.92 Z" fill="#4fe3a2"/>
<path d="M517.90,111.00 L519.48,113.62 L516.32,113.62 Z" fill="#4fe3a2"/>
<path d="M516.60,113.60 L518.18,116.22 L515.02,116.22 Z" fill="#4fe3a2"/>
<path d="M519.90,112.30 L521.48,114.92 L518.32,114.92 Z" fill="#4fe3a2"/>
<path d="M521.80,108.30 L523.38,110.92 L520.22,110.92 Z" fill="#4fe3a2"/>
<path d="M523.50,104.40 L525.08,107.03 L521.92,107.03 Z" fill="#4fe3a2"/>
<rect x="499.2" y="28" width="108.6" height="127" fill="none" stroke="#b4b4b4" stroke-width="1.7"/>
<line x1="497" y1="64.40" x2="498.4" y2="64.40" stroke="#333" stroke-width="0.8"/>
<text x="495.60" y="68.40" font-size="7.30" font-weight="bold" font-style="normal" text-anchor="end" fill="#3a3a3a" stroke="#3a3a3a" stroke-width="0.2" >0.25</text>
<line x1="497" y1="104.80" x2="498.4" y2="104.80" stroke="#333" stroke-width="0.8"/>
<text x="495.60" y="108.80" font-size="7.30" font-weight="bold" font-style="normal" text-anchor="end" fill="#3a3a3a" stroke="#3a3a3a" stroke-width="0.2" >0.00</text>
<line x1="497" y1="145.20" x2="498.4" y2="145.20" stroke="#333" stroke-width="0.8"/>
<text x="495.60" y="149.20" font-size="7.30" font-weight="bold" font-style="normal" text-anchor="end" fill="#3a3a3a" stroke="#3a3a3a" stroke-width="0.2" >−0.25</text>
<line x1="502.40" y1="155.8" x2="502.40" y2="157.2" stroke="#333" stroke-width="0.8"/>
<text x="501.90" y="165.80" font-size="7.30" font-weight="bold" font-style="normal" text-anchor="middle" fill="#3a3a3a" stroke="#3a3a3a" stroke-width="0.2" >−0.25</text>
<line x1="528.25" y1="155.8" x2="528.25" y2="157.2" stroke="#333" stroke-width="0.8"/>
<text x="527.75" y="165.80" font-size="7.30" font-weight="bold" font-style="normal" text-anchor="middle" fill="#3a3a3a" stroke="#3a3a3a" stroke-width="0.2" >0.00</text>
<line x1="554.10" y1="155.8" x2="554.10" y2="157.2" stroke="#333" stroke-width="0.8"/>
<text x="553.60" y="165.80" font-size="7.30" font-weight="bold" font-style="normal" text-anchor="middle" fill="#3a3a3a" stroke="#3a3a3a" stroke-width="0.2" >0.25</text>
<line x1="579.95" y1="155.8" x2="579.95" y2="157.2" stroke="#333" stroke-width="0.8"/>
<text x="579.45" y="165.80" font-size="7.30" font-weight="bold" font-style="normal" text-anchor="middle" fill="#3a3a3a" stroke="#3a3a3a" stroke-width="0.2" >0.50</text>
<line x1="605.80" y1="155.8" x2="605.80" y2="157.2" stroke="#333" stroke-width="0.8"/>
<text x="605.30" y="165.80" font-size="7.30" font-weight="bold" font-style="normal" text-anchor="middle" fill="#3a3a3a" stroke="#3a3a3a" stroke-width="0.2" >0.75</text>
<text x="554.50" y="176.70" font-size="8.10" font-weight="bold" font-style="normal" text-anchor="middle" fill="#111" stroke="#111" stroke-width="0.2" >PCoA1 (29.4%)</text>
<text transform="translate(481.0,94.05) rotate(-90)" font-size="8.74" font-weight="bold" text-anchor="middle" fill="#111" stroke="#111" stroke-width="0.2">PCoA2 (11.5%)</text>
<text x="567.40" y="146.30" font-size="6.50" font-weight="bold" font-style="normal" text-anchor="start" fill="#111" stroke="#111" stroke-width="0.2" >R = -0.007</text>
<text x="567.9" y="152.7" font-size="6.5" font-weight="bold" fill="#111" stroke="#111" stroke-width="0.2"><tspan font-style="italic">P</tspan> = 0.506</text>
<clipPath id="clp3"><path d="M506.40,26.20 C507.00,26.13 508.93,26.03 510.00,25.80 C511.07,25.57 512.05,26.27 512.80,24.80 C513.55,23.33 513.97,19.30 514.50,17.00 C515.03,14.70 515.50,12.92 516.00,11.00 C516.50,9.08 516.95,6.80 517.50,5.50 C518.05,4.20 518.75,3.28 519.30,3.20 C519.85,3.12 520.35,4.00 520.80,5.00 C521.25,6.00 521.65,7.58 522.00,9.20 C522.35,10.82 522.40,13.15 522.90,14.70 C523.40,16.25 524.23,17.28 525.00,18.50 C525.77,19.72 526.47,20.80 527.50,22.00 C528.53,23.20 530.28,25.07 531.20,25.70 C532.12,26.33 530.18,25.92 533.00,25.80 C535.82,25.68 544.93,25.07 548.10,25.00 C551.27,24.93 547.57,25.40 552.00,25.40 C556.43,25.40 569.03,25.12 574.70,25.00 C580.37,24.88 582.83,24.75 586.00,24.70 C589.17,24.65 591.00,24.55 593.70,24.70 C596.40,24.85 600.78,25.45 602.20,25.60 L602.20,26.40 L506.40,26.40 Z"/></clipPath>
<path d="M506.40,26.20 C507.00,26.13 508.93,26.03 510.00,25.80 C511.07,25.57 512.05,26.27 512.80,24.80 C513.55,23.33 513.97,19.30 514.50,17.00 C515.03,14.70 515.50,12.92 516.00,11.00 C516.50,9.08 516.95,6.80 517.50,5.50 C518.05,4.20 518.75,3.28 519.30,3.20 C519.85,3.12 520.35,4.00 520.80,5.00 C521.25,6.00 521.65,7.58 522.00,9.20 C522.35,10.82 522.40,13.15 522.90,14.70 C523.40,16.25 524.23,17.28 525.00,18.50 C525.77,19.72 526.47,20.80 527.50,22.00 C528.53,23.20 530.28,25.07 531.20,25.70 C532.12,26.33 530.18,25.92 533.00,25.80 C535.82,25.68 544.93,25.07 548.10,25.00 C551.27,24.93 547.57,25.40 552.00,25.40 C556.43,25.40 569.03,25.12 574.70,25.00 C580.37,24.88 582.83,24.75 586.00,24.70 C589.17,24.65 591.00,24.55 593.70,24.70 C596.40,24.85 600.78,25.45 602.20,25.60 L602.20,26.40 L506.40,26.40 Z" fill="#9ff0cc"/>
<path d="M503.50,26.40 C504.60,26.28 508.70,26.12 510.10,25.70 C511.50,25.28 511.37,25.02 511.90,23.90 C512.43,22.78 512.83,20.53 513.30,19.00 C513.77,17.47 514.17,16.03 514.70,14.70 C515.23,13.37 515.90,11.92 516.50,11.00 C517.10,10.08 517.68,9.35 518.30,9.20 C518.92,9.05 519.58,9.58 520.20,10.10 C520.82,10.62 521.38,11.53 522.00,12.30 C522.62,13.07 522.98,13.53 523.90,14.70 C524.82,15.87 526.43,17.77 527.50,19.30 C528.57,20.83 529.53,22.92 530.30,23.90 C531.07,24.88 530.48,24.98 532.10,25.20 C533.72,25.42 537.33,25.20 540.00,25.20 C542.67,25.20 544.53,25.10 548.10,25.20 C551.67,25.30 556.02,25.73 561.40,25.80 C566.78,25.87 575.65,25.73 580.40,25.60 C585.15,25.47 587.22,25.22 589.90,25.00 C592.58,24.78 594.77,24.27 596.50,24.30 C598.23,24.33 599.18,24.88 600.30,25.20 C601.42,25.52 602.72,26.03 603.20,26.20 L603.20,26.40 L503.50,26.40 Z" fill="#f4a9c0"/>
<path d="M503.50,26.40 C504.60,26.28 508.70,26.12 510.10,25.70 C511.50,25.28 511.37,25.02 511.90,23.90 C512.43,22.78 512.83,20.53 513.30,19.00 C513.77,17.47 514.17,16.03 514.70,14.70 C515.23,13.37 515.90,11.92 516.50,11.00 C517.10,10.08 517.68,9.35 518.30,9.20 C518.92,9.05 519.58,9.58 520.20,10.10 C520.82,10.62 521.38,11.53 522.00,12.30 C522.62,13.07 522.98,13.53 523.90,14.70 C524.82,15.87 526.43,17.77 527.50,19.30 C528.57,20.83 529.53,22.92 530.30,23.90 C531.07,24.88 530.48,24.98 532.10,25.20 C533.72,25.42 537.33,25.20 540.00,25.20 C542.67,25.20 544.53,25.10 548.10,25.20 C551.67,25.30 556.02,25.73 561.40,25.80 C566.78,25.87 575.65,25.73 580.40,25.60 C585.15,25.47 587.22,25.22 589.90,25.00 C592.58,24.78 594.77,24.27 596.50,24.30 C598.23,24.33 599.18,24.88 600.30,25.20 C601.42,25.52 602.72,26.03 603.20,26.20 L603.20,26.40 L503.50,26.40 Z" fill="#aa9baa" clip-path="url(#clp3)"/>
<path d="M506.40,26.20 C507.00,26.13 508.93,26.03 510.00,25.80 C511.07,25.57 512.05,26.27 512.80,24.80 C513.55,23.33 513.97,19.30 514.50,17.00 C515.03,14.70 515.50,12.92 516.00,11.00 C516.50,9.08 516.95,6.80 517.50,5.50 C518.05,4.20 518.75,3.28 519.30,3.20 C519.85,3.12 520.35,4.00 520.80,5.00 C521.25,6.00 521.65,7.58 522.00,9.20 C522.35,10.82 522.40,13.15 522.90,14.70 C523.40,16.25 524.23,17.28 525.00,18.50 C525.77,19.72 526.47,20.80 527.50,22.00 C528.53,23.20 530.28,25.07 531.20,25.70 C532.12,26.33 530.18,25.92 533.00,25.80 C535.82,25.68 544.93,25.07 548.10,25.00 C551.27,24.93 547.57,25.40 552.00,25.40 C556.43,25.40 569.03,25.12 574.70,25.00 C580.37,24.88 582.83,24.75 586.00,24.70 C589.17,24.65 591.00,24.55 593.70,24.70 C596.40,24.85 600.78,25.45 602.20,25.60" fill="none" stroke="#4fe0a0" stroke-width="1"/>
<path d="M503.50,26.40 C504.60,26.28 508.70,26.12 510.10,25.70 C511.50,25.28 511.37,25.02 511.90,23.90 C512.43,22.78 512.83,20.53 513.30,19.00 C513.77,17.47 514.17,16.03 514.70,14.70 C515.23,13.37 515.90,11.92 516.50,11.00 C517.10,10.08 517.68,9.35 518.30,9.20 C518.92,9.05 519.58,9.58 520.20,10.10 C520.82,10.62 521.38,11.53 522.00,12.30 C522.62,13.07 522.98,13.53 523.90,14.70 C524.82,15.87 526.43,17.77 527.50,19.30 C528.57,20.83 529.53,22.92 530.30,23.90 C531.07,24.88 530.48,24.98 532.10,25.20 C533.72,25.42 537.33,25.20 540.00,25.20 C542.67,25.20 544.53,25.10 548.10,25.20 C551.67,25.30 556.02,25.73 561.40,25.80 C566.78,25.87 575.65,25.73 580.40,25.60 C585.15,25.47 587.22,25.22 589.90,25.00 C592.58,24.78 594.77,24.27 596.50,24.30 C598.23,24.33 599.18,24.88 600.30,25.20 C601.42,25.52 602.72,26.03 603.20,26.20" fill="none" stroke="#e6457a" stroke-width="1"/>
<clipPath id="clp4"><path d="M609.20,33.90 C609.20,36.60 609.07,45.67 609.20,50.10 C609.33,54.53 609.68,57.78 610.00,60.50 C610.32,63.22 610.68,64.43 611.10,66.40 C611.52,68.37 611.93,70.37 612.50,72.30 C613.07,74.23 613.67,76.05 614.50,78.00 C615.33,79.95 616.25,81.83 617.50,84.00 C618.75,86.17 620.50,88.67 622.00,91.00 C623.50,93.33 625.50,95.83 626.50,98.00 C627.50,100.17 627.82,102.00 628.00,104.00 C628.18,106.00 628.33,108.02 627.60,110.00 C626.87,111.98 624.95,114.07 623.60,115.90 C622.25,117.73 620.57,119.57 619.50,121.00 C618.43,122.43 617.85,123.17 617.20,124.50 C616.55,125.83 616.00,127.23 615.60,129.00 C615.20,130.77 615.07,133.10 614.80,135.10 C614.53,137.10 614.38,139.28 614.00,141.00 C613.62,142.72 612.98,144.05 612.50,145.40 C612.02,146.75 611.33,148.48 611.10,149.10 L608.70,149.10 L608.70,33.90 Z"/></clipPath>
<path d="M609.20,33.90 C609.20,36.60 609.07,45.67 609.20,50.10 C609.33,54.53 609.68,57.78 610.00,60.50 C610.32,63.22 610.68,64.43 611.10,66.40 C611.52,68.37 611.93,70.37 612.50,72.30 C613.07,74.23 613.67,76.05 614.50,78.00 C615.33,79.95 616.25,81.83 617.50,84.00 C618.75,86.17 620.50,88.67 622.00,91.00 C623.50,93.33 625.50,95.83 626.50,98.00 C627.50,100.17 627.82,102.00 628.00,104.00 C628.18,106.00 628.33,108.02 627.60,110.00 C626.87,111.98 624.95,114.07 623.60,115.90 C622.25,117.73 620.57,119.57 619.50,121.00 C618.43,122.43 617.85,123.17 617.20,124.50 C616.55,125.83 616.00,127.23 615.60,129.00 C615.20,130.77 615.07,133.10 614.80,135.10 C614.53,137.10 614.38,139.28 614.00,141.00 C613.62,142.72 612.98,144.05 612.50,145.40 C612.02,146.75 611.33,148.48 611.10,149.10 L608.70,149.10 L608.70,33.90 Z" fill="#9ff0cc"/>
<path d="M609.20,33.20 C609.27,35.28 609.28,42.38 609.60,45.70 C609.92,49.02 610.37,51.13 611.10,53.10 C611.83,55.07 613.20,55.93 614.00,57.50 C614.80,59.07 615.60,61.00 615.90,62.50 C616.20,64.00 616.12,64.87 615.80,66.50 C615.48,68.13 614.37,70.38 614.00,72.30 C613.63,74.22 613.43,76.22 613.60,78.00 C613.77,79.78 614.27,81.25 615.00,83.00 C615.73,84.75 616.67,86.50 618.00,88.50 C619.33,90.50 621.42,93.08 623.00,95.00 C624.58,96.92 626.62,98.50 627.50,100.00 C628.38,101.50 628.32,102.33 628.30,104.00 C628.28,105.67 628.05,107.52 627.40,110.00 C626.75,112.48 625.52,116.20 624.40,118.90 C623.28,121.60 622.07,124.00 620.70,126.20 C619.33,128.40 617.43,130.25 616.20,132.10 C614.97,133.95 614.15,135.57 613.30,137.30 C612.45,139.03 611.72,140.65 611.10,142.50 C610.48,144.35 609.85,147.42 609.60,148.40 L608.70,148.40 L608.70,33.20 Z" fill="#f4a9c0"/>
<path d="M609.20,33.20 C609.27,35.28 609.28,42.38 609.60,45.70 C609.92,49.02 610.37,51.13 611.10,53.10 C611.83,55.07 613.20,55.93 614.00,57.50 C614.80,59.07 615.60,61.00 615.90,62.50 C616.20,64.00 616.12,64.87 615.80,66.50 C615.48,68.13 614.37,70.38 614.00,72.30 C613.63,74.22 613.43,76.22 613.60,78.00 C613.77,79.78 614.27,81.25 615.00,83.00 C615.73,84.75 616.67,86.50 618.00,88.50 C619.33,90.50 621.42,93.08 623.00,95.00 C624.58,96.92 626.62,98.50 627.50,100.00 C628.38,101.50 628.32,102.33 628.30,104.00 C628.28,105.67 628.05,107.52 627.40,110.00 C626.75,112.48 625.52,116.20 624.40,118.90 C623.28,121.60 622.07,124.00 620.70,126.20 C619.33,128.40 617.43,130.25 616.20,132.10 C614.97,133.95 614.15,135.57 613.30,137.30 C612.45,139.03 611.72,140.65 611.10,142.50 C610.48,144.35 609.85,147.42 609.60,148.40 L608.70,148.40 L608.70,33.20 Z" fill="#aa9baa" clip-path="url(#clp4)"/>
<path d="M609.20,33.90 C609.20,36.60 609.07,45.67 609.20,50.10 C609.33,54.53 609.68,57.78 610.00,60.50 C610.32,63.22 610.68,64.43 611.10,66.40 C611.52,68.37 611.93,70.37 612.50,72.30 C613.07,74.23 613.67,76.05 614.50,78.00 C615.33,79.95 616.25,81.83 617.50,84.00 C618.75,86.17 620.50,88.67 622.00,91.00 C623.50,93.33 625.50,95.83 626.50,98.00 C627.50,100.17 627.82,102.00 628.00,104.00 C628.18,106.00 628.33,108.02 627.60,110.00 C626.87,111.98 624.95,114.07 623.60,115.90 C622.25,117.73 620.57,119.57 619.50,121.00 C618.43,122.43 617.85,123.17 617.20,124.50 C616.55,125.83 616.00,127.23 615.60,129.00 C615.20,130.77 615.07,133.10 614.80,135.10 C614.53,137.10 614.38,139.28 614.00,141.00 C613.62,142.72 612.98,144.05 612.50,145.40 C612.02,146.75 611.33,148.48 611.10,149.10" fill="none" stroke="#4fe0a0" stroke-width="1"/>
<path d="M609.20,33.20 C609.27,35.28 609.28,42.38 609.60,45.70 C609.92,49.02 610.37,51.13 611.10,53.10 C611.83,55.07 613.20,55.93 614.00,57.50 C614.80,59.07 615.60,61.00 615.90,62.50 C616.20,64.00 616.12,64.87 615.80,66.50 C615.48,68.13 614.37,70.38 614.00,72.30 C613.63,74.22 613.43,76.22 613.60,78.00 C613.77,79.78 614.27,81.25 615.00,83.00 C615.73,84.75 616.67,86.50 618.00,88.50 C619.33,90.50 621.42,93.08 623.00,95.00 C624.58,96.92 626.62,98.50 627.50,100.00 C628.38,101.50 628.32,102.33 628.30,104.00 C628.28,105.67 628.05,107.52 627.40,110.00 C626.75,112.48 625.52,116.20 624.40,118.90 C623.28,121.60 622.07,124.00 620.70,126.20 C619.33,128.40 617.43,130.25 616.20,132.10 C614.97,133.95 614.15,135.57 613.30,137.30 C612.45,139.03 611.72,140.65 611.10,142.50 C610.48,144.35 609.85,147.42 609.60,148.40" fill="none" stroke="#e6457a" stroke-width="1"/>
<text x="631.20" y="27.80" font-size="10.85" font-weight="bold" font-style="normal" text-anchor="start" fill="#111" stroke="#111" stroke-width="0.2" >Sexual role</text>
<text x="631.40" y="43.60" font-size="10.00" font-weight="normal" font-style="normal" text-anchor="start" fill="#5de0a8" stroke="#5de0a8" stroke-width="0.2" >Receptive</text>
<path d="M682.20,38.20 L684.72,42.40 L679.68,42.40 Z" fill="#5de0a8"/>
<text x="631.30" y="56.90" font-size="11.00" font-weight="bold" font-style="normal" text-anchor="start" fill="#e8457b" stroke="#e8457b" stroke-width="0.2" letter-spacing="0.7">Insertive</text>
<circle cx="681.90" cy="53.60" r="1.30" fill="#e8457b"/>
<rect x="62.30" y="187.20" width="96.58" height="10.00" fill="#3a80d6"/>
<rect x="62.30" y="198.52" width="72.71" height="10.00" fill="#3a80d6"/>
<rect x="62.30" y="209.84" width="58.12" height="10.00" fill="#3a80d6"/>
<rect x="62.30" y="221.16" width="57.90" height="10.00" fill="#3a80d6"/>
<rect x="62.30" y="232.48" width="89.06" height="10.00" fill="#cc0a10"/>
<rect x="62.30" y="243.80" width="89.06" height="10.00" fill="#cc0a10"/>
<rect x="62.30" y="255.12" width="89.06" height="10.00" fill="#cc0a10"/>
<rect x="62.30" y="266.44" width="89.06" height="10.00" fill="#cc0a10"/>
<rect x="62.30" y="277.76" width="72.93" height="10.00" fill="#cc0a10"/>
<line x1="57.20" y1="185.50" x2="57.20" y2="289.90" stroke="#333" stroke-width="1.1"/>
<line x1="56.70" y1="289.40" x2="164.00" y2="289.40" stroke="#333" stroke-width="1.3"/>
<text x="55.00" y="194.40" font-size="6.25" font-weight="bold" font-style="italic" text-anchor="end" fill="#1a1a1a" stroke="#1a1a1a" stroke-width="0.2" >g_Prevotellamassilia</text>
<text x="55.00" y="205.72" font-size="6.25" font-weight="bold" font-style="italic" text-anchor="end" fill="#1a1a1a" stroke="#1a1a1a" stroke-width="0.2" >g_Sutterella</text>
<text x="55.00" y="217.04" font-size="6.25" font-weight="bold" font-style="italic" text-anchor="end" fill="#1a1a1a" stroke="#1a1a1a" stroke-width="0.2" >c_Bacilli</text>
<text x="55.00" y="228.36" font-size="6.25" font-weight="bold" font-style="italic" text-anchor="end" fill="#1a1a1a" stroke="#1a1a1a" stroke-width="0.2" >o_Lactobacillales</text>
<text x="55.00" y="239.68" font-size="6.25" font-weight="bold" font-style="italic" text-anchor="end" fill="#1a1a1a" stroke="#1a1a1a" stroke-width="0.2" >g_Bifidobacterium</text>
<text x="55.00" y="251.00" font-size="6.25" font-weight="bold" font-style="italic" text-anchor="end" fill="#1a1a1a" stroke="#1a1a1a" stroke-width="0.2" >f_Bifidobacteriaceae</text>
<text x="55.00" y="262.32" font-size="6.25" font-weight="bold" font-style="italic" text-anchor="end" fill="#1a1a1a" stroke="#1a1a1a" stroke-width="0.2" >o_Bifidobacteriales</text>
<text x="55.00" y="273.64" font-size="6.25" font-weight="bold" font-style="italic" text-anchor="end" fill="#1a1a1a" stroke="#1a1a1a" stroke-width="0.2" >c_Actinobacteria</text>
<text x="55.00" y="284.96" font-size="6.25" font-weight="bold" font-style="italic" text-anchor="end" fill="#1a1a1a" stroke="#1a1a1a" stroke-width="0.2" >g_Xylanibacter</text>
<text x="62.70" y="295.30" font-size="5.00" font-weight="bold" font-style="normal" text-anchor="middle" fill="#333" stroke="#333" stroke-width="0.2" >0</text>
<text x="84.80" y="295.30" font-size="5.00" font-weight="bold" font-style="normal" text-anchor="middle" fill="#333" stroke="#333" stroke-width="0.2" >1</text>
<text x="106.90" y="295.30" font-size="5.00" font-weight="bold" font-style="normal" text-anchor="middle" fill="#333" stroke="#333" stroke-width="0.2" >2</text>
<text x="129.00" y="295.30" font-size="5.00" font-weight="bold" font-style="normal" text-anchor="middle" fill="#333" stroke="#333" stroke-width="0.2" >3</text>
<text x="151.10" y="295.30" font-size="5.00" font-weight="bold" font-style="normal" text-anchor="middle" fill="#333" stroke="#333" stroke-width="0.2" >4</text>
<text x="108.40" y="302.80" font-size="6.60" font-weight="bold" font-style="normal" text-anchor="middle" fill="#111" stroke="#111" stroke-width="0.2" >LDA Score(log 10)</text>
<text x="167.00" y="225.20" font-size="8.85" font-weight="bold" font-style="normal" text-anchor="start" fill="#111" stroke="#111" stroke-width="0.2" >Illicit drug use</text>
<rect x="167.4" y="230.9" width="6.4" height="5.9" fill="#cc0a10"/>
<rect x="167.4" y="238.7" width="6.4" height="5.9" fill="#3a80d6"/>
<text x="176.50" y="235.60" font-size="7.00" font-weight="bold" font-style="normal" text-anchor="start" fill="#111" stroke="#111" stroke-width="0.2" >No</text>
<text x="176.50" y="244.00" font-size="7.00" font-weight="bold" font-style="normal" text-anchor="start" fill="#111" stroke="#111" stroke-width="0.2" >Yes</text>
<rect x="306.50" y="197.90" width="87.60" height="11.40" fill="#3a80d6"/>
<rect x="306.50" y="211.07" width="63.80" height="11.40" fill="#3a80d6"/>
<rect x="306.50" y="224.24" width="63.40" height="11.40" fill="#3a80d6"/>
<rect x="306.50" y="237.41" width="47.50" height="11.40" fill="#3a80d6"/>
<rect x="306.50" y="250.58" width="46.30" height="11.40" fill="#3a80d6"/>
<rect x="306.50" y="263.75" width="68.50" height="11.40" fill="#cc0a10"/>
<rect x="306.50" y="276.92" width="65.00" height="11.40" fill="#cc0a10"/>
<line x1="301.70" y1="196.00" x2="301.70" y2="291.10" stroke="#333" stroke-width="1.1"/>
<line x1="301.20" y1="290.60" x2="398.80" y2="290.60" stroke="#333" stroke-width="1.3"/>
<text x="298.90" y="206.30" font-size="6.50" font-weight="bold" font-style="italic" text-anchor="end" fill="#1a1a1a" stroke="#1a1a1a" stroke-width="0.2" >g_Prevotellamassilia</text>
<text x="298.90" y="219.47" font-size="6.50" font-weight="bold" font-style="italic" text-anchor="end" fill="#1a1a1a" stroke="#1a1a1a" stroke-width="0.2" >f_Peptostreptococcaceae</text>
<text x="298.90" y="232.64" font-size="6.50" font-weight="bold" font-style="italic" text-anchor="end" fill="#1a1a1a" stroke="#1a1a1a" stroke-width="0.2" >g_Romboutsia</text>
<text x="298.90" y="245.81" font-size="6.50" font-weight="bold" font-style="italic" text-anchor="end" fill="#1a1a1a" stroke="#1a1a1a" stroke-width="0.2" >g_Citrobacter</text>
<text x="298.90" y="258.98" font-size="6.50" font-weight="bold" font-style="italic" text-anchor="end" fill="#1a1a1a" stroke="#1a1a1a" stroke-width="0.2" >o_Alteromonadales</text>
<text x="298.90" y="272.15" font-size="6.50" font-weight="bold" font-style="italic" text-anchor="end" fill="#1a1a1a" stroke="#1a1a1a" stroke-width="0.2" >g_Hominimerdicola</text>
<text x="298.90" y="285.32" font-size="6.50" font-weight="bold" font-style="italic" text-anchor="end" fill="#1a1a1a" stroke="#1a1a1a" stroke-width="0.2" >g_Succinivibrio</text>
<text x="306.90" y="296.30" font-size="5.00" font-weight="bold" font-style="normal" text-anchor="middle" fill="#333" stroke="#333" stroke-width="0.2" >0</text>
<text x="327.35" y="296.30" font-size="5.00" font-weight="bold" font-style="normal" text-anchor="middle" fill="#333" stroke="#333" stroke-width="0.2" >1</text>
<text x="347.80" y="296.30" font-size="5.00" font-weight="bold" font-style="normal" text-anchor="middle" fill="#333" stroke="#333" stroke-width="0.2" >2</text>
<text x="368.25" y="296.30" font-size="5.00" font-weight="bold" font-style="normal" text-anchor="middle" fill="#333" stroke="#333" stroke-width="0.2" >3</text>
<text x="388.70" y="296.30" font-size="5.00" font-weight="bold" font-style="normal" text-anchor="middle" fill="#333" stroke="#333" stroke-width="0.2" >4</text>
<text x="352.90" y="302.00" font-size="5.85" font-weight="bold" font-style="normal" text-anchor="middle" fill="#111" stroke="#111" stroke-width="0.2" >LDA Score(log 10)</text>
<text x="403.80" y="227.40" font-size="8.25" font-weight="bold" font-style="normal" text-anchor="start" fill="#111" stroke="#111" stroke-width="0.2" >HIV-positive</text>
<text x="403.80" y="236.30" font-size="8.25" font-weight="bold" font-style="normal" text-anchor="start" fill="#111" stroke="#111" stroke-width="0.2" >sexual partner</text>
<rect x="404" y="243.2" width="5.8" height="5.2" fill="#cc0a10"/>
<rect x="404" y="250.7" width="5.8" height="5.4" fill="#3a80d6"/>
<text x="411.90" y="247.80" font-size="6.60" font-weight="bold" font-style="normal" text-anchor="start" fill="#111" stroke="#111" stroke-width="0.2" >No</text>
<text x="411.90" y="255.70" font-size="6.60" font-weight="bold" font-style="normal" text-anchor="start" fill="#111" stroke="#111" stroke-width="0.2" >Yes</text>
<rect x="535.80" y="203.80" width="69.30" height="11.60" fill="#3a80d6"/>
<rect x="535.80" y="217.18" width="68.80" height="11.60" fill="#3a80d6"/>
<rect x="535.80" y="230.56" width="68.80" height="11.60" fill="#3a80d6"/>
<rect x="535.80" y="243.94" width="62.30" height="11.60" fill="#3a80d6"/>
<rect x="535.80" y="257.32" width="82.60" height="11.60" fill="#cc0a10"/>
<line x1="531.10" y1="202.00" x2="531.10" y2="271.30" stroke="#333" stroke-width="1.1"/>
<line x1="530.60" y1="270.80" x2="622.70" y2="270.80" stroke="#333" stroke-width="1.3"/>
<text x="529.70" y="212.40" font-size="6.45" font-weight="bold" font-style="italic" text-anchor="end" fill="#1a1a1a" stroke="#1a1a1a" stroke-width="0.2" >c_Deltaproteobacteria</text>
<text x="529.70" y="225.78" font-size="6.45" font-weight="bold" font-style="italic" text-anchor="end" fill="#1a1a1a" stroke="#1a1a1a" stroke-width="0.2" >f_Desulfovibrionaceae</text>
<text x="529.70" y="239.16" font-size="6.45" font-weight="bold" font-style="italic" text-anchor="end" fill="#1a1a1a" stroke="#1a1a1a" stroke-width="0.2" >o_Desulfovibrionales</text>
<text x="529.70" y="252.54" font-size="6.45" font-weight="bold" font-style="italic" text-anchor="end" fill="#1a1a1a" stroke="#1a1a1a" stroke-width="0.2" >g_Bilophila</text>
<text x="529.70" y="265.92" font-size="6.45" font-weight="bold" font-style="italic" text-anchor="end" fill="#1a1a1a" stroke="#1a1a1a" stroke-width="0.2" >g_Xylanibacter</text>
<text x="536.20" y="276.80" font-size="5.00" font-weight="bold" font-style="normal" text-anchor="middle" fill="#333" stroke="#333" stroke-width="0.2" >0</text>
<text x="563.23" y="276.80" font-size="5.00" font-weight="bold" font-style="normal" text-anchor="middle" fill="#333" stroke="#333" stroke-width="0.2" >1</text>
<text x="590.26" y="276.80" font-size="5.00" font-weight="bold" font-style="normal" text-anchor="middle" fill="#333" stroke="#333" stroke-width="0.2" >2</text>
<text x="617.29" y="276.80" font-size="5.00" font-weight="bold" font-style="normal" text-anchor="middle" fill="#333" stroke="#333" stroke-width="0.2" >3</text>
<text x="580.00" y="282.60" font-size="5.85" font-weight="bold" font-style="normal" text-anchor="middle" fill="#111" stroke="#111" stroke-width="0.2" >LDA Score(log 10)</text>
<text x="623.80" y="209.30" font-size="8.00" font-weight="bold" font-style="normal" text-anchor="start" fill="#111" stroke="#111" stroke-width="0.2" >Sexual role</text>
<rect x="626.3" y="213.5" width="5.8" height="5.3" fill="#cc0a10"/>
<rect x="626.3" y="221.2" width="5.8" height="5.3" fill="#3a80d6"/>
<text x="634.50" y="218.00" font-size="5.95" font-weight="bold" font-style="normal" text-anchor="start" fill="#111" stroke="#111" stroke-width="0.2" >Insertive</text>
<text x="634.50" y="225.80" font-size="5.95" font-weight="bold" font-style="normal" text-anchor="start" fill="#111" stroke="#111" stroke-width="0.2" >Receptive</text></svg>
</body></html>
